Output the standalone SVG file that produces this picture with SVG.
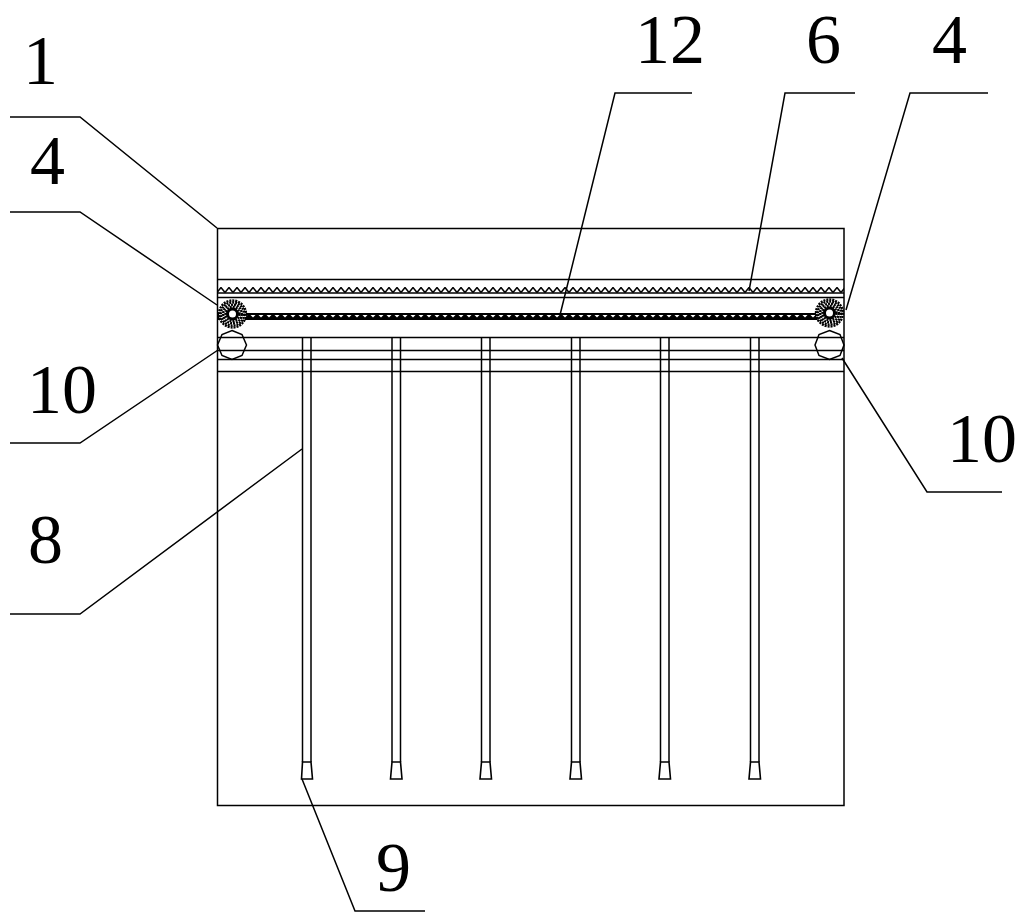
<svg xmlns="http://www.w3.org/2000/svg" width="1022" height="922" viewBox="0 0 1022 922">
<style>
.l{fill:none;stroke:#000;stroke-width:1.5}
.t{font-family:"Liberation Serif","Noto Sans CJK SC",serif;font-size:70px;fill:#000}
.dots{fill:none;stroke:#000;stroke-width:2.4;stroke-dasharray:2 1}
.foot{fill:#fff;stroke:#000;stroke-width:1.6}
</style>
<defs>
<pattern id="zig" width="8" height="6" patternUnits="userSpaceOnUse" x="217" y="287">
<path d="M0 5.500L4 .5L8 5.500" fill="none" stroke="#000" stroke-width="1.500"/>
</pattern>
<pattern id="zig2" width="8" height="7" patternUnits="userSpaceOnUse" x="217" y="313">
<path d="M0 0H8V7H0Z" fill="#000"/>
<path d="M1.500 2H6.500L4 4.500Z" fill="#fff"/>
</pattern>
<g id="wheel">
<circle r="13.500" fill="#fff"/>
<circle r="7" class="dots"/>
<circle r="9.300" class="dots"/>
<circle r="11.600" class="dots"/>
<circle r="13.500" class="dots"/>
<circle r="5" fill="#fff" stroke="#000" stroke-width="3"/>
</g>
</defs>
<rect width="1022" height="922" fill="#fff"/>
<g id="frame">
<rect class="l" x="217.500" y="228.500" width="626.500" height="577"/>
<path class="l" d="M217.500 279.500H844M217.500 297.500H844M217.500 337.500H844M217.500 350.500H844M217.500 359.500H844M217.500 371.500H844"/>
</g>
<g id="belt-6">
<rect x="218" y="287" width="626" height="6" fill="url(#zig)"/>
<path class="l" d="M218 293H844"/>
</g>
<g id="belt-12">
<rect x="218" y="313" width="610" height="7" fill="url(#zig2)"/>
</g>
<g id="rods">
<path class="l" d="M302.500 337V762M311 337V762M392 337V762M400.500 337V762M481.500 337V762M490 337V762M571.500 337V762M580 337V762M660.500 337V762M669 337V762M750.500 337V762M759 337V762"/>
</g>
<g id="feet">
<path class="foot" d="M302.500 762H311L312.500 779H301.500Z"/>
<path class="foot" d="M392 762H400.500L402 779H390.500Z"/>
<path class="foot" d="M481.500 762H490L491.500 779H480Z"/>
<path class="foot" d="M571.500 762H580L581.500 779H570Z"/>
<path class="foot" d="M660.500 762H669L670.500 779H659Z"/>
<path class="foot" d="M750.500 762H759L760.500 779H749Z"/>
</g>
<g id="wheel-left"><use href="#wheel" x="232.500" y="314"/></g>
<g id="wheel-right"><use href="#wheel" x="829.500" y="313"/></g>
<g id="roller-left"><polygon class="l" points="232,330.500 242,334.500 246.500,345 242,355.500 232,359.500 222,355.500 217.500,345 222,334.500"/></g>
<g id="roller-right"><polygon class="l" points="829.500,330.500 840,334.500 844,345 840,355.500 829.500,359.500 819,355.500 815,345 819,334.500"/></g>
<g id="connectors">
<path class="l" d="M10 117H80L217 228"/>
<path class="l" d="M10 212H80L217 305"/>
<path class="l" d="M10 443H80L218 350"/>
<path class="l" d="M10 614H80L302 449"/>
<path class="l" d="M425 911H355L302 779"/>
<path class="l" d="M692 93H615L560 315"/>
<path class="l" d="M855 93H785L749 291"/>
<path class="l" d="M988 93H910L846 310"/>
<path class="l" d="M1002 492H927L842 358"/>
</g>
<g id="labels">
<text class="t" x="23" y="84">1</text>
<text class="t" x="30" y="184">4</text>
<text class="t" x="27" y="413">10</text>
<text class="t" x="28" y="563">8</text>
<text class="t" x="635" y="63">12</text>
<text class="t" x="806" y="63">6</text>
<text class="t" x="932" y="63">4</text>
<text class="t" x="947" y="462">10</text>
<text class="t" x="376" y="891">9</text>
</g>
</svg>
